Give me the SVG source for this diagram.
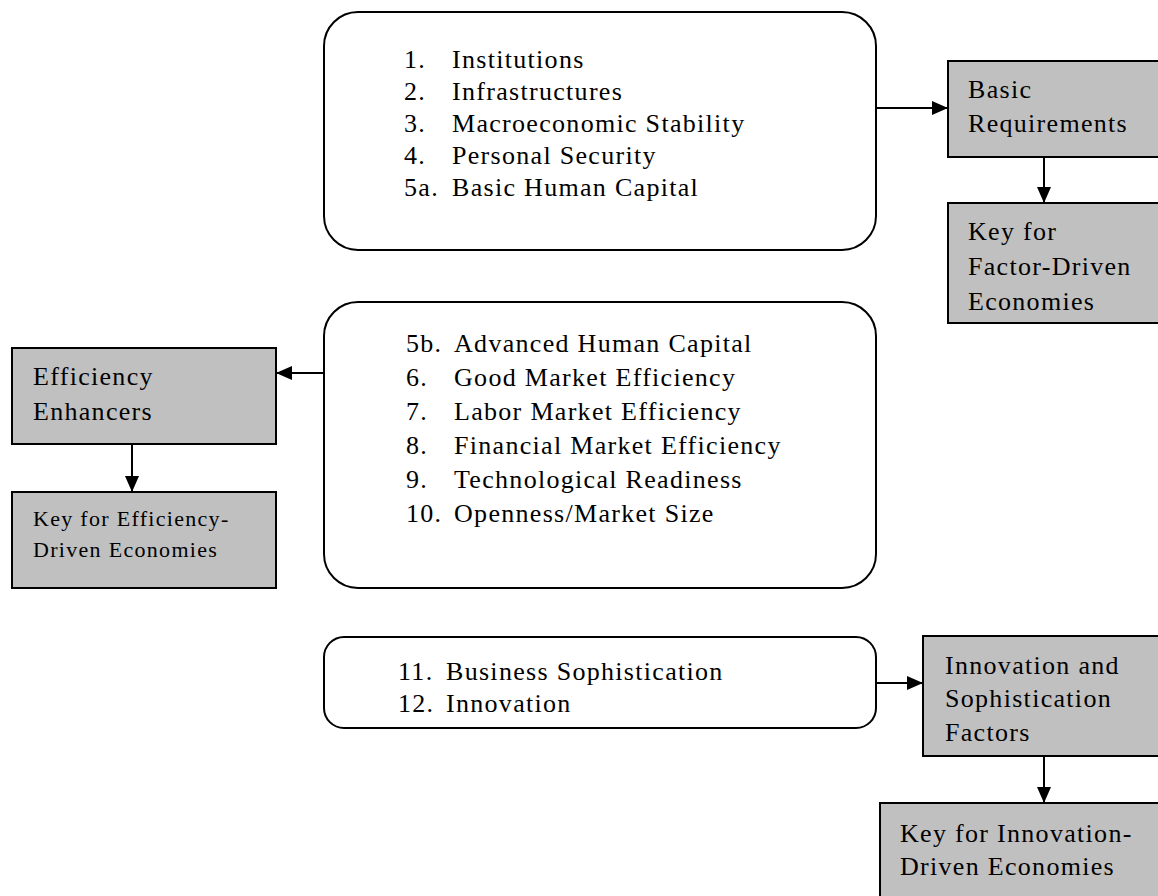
<svg xmlns="http://www.w3.org/2000/svg" width="1158" height="896" viewBox="0 0 1158 896">
  <defs>
    <marker id="arrow" viewBox="0 0 16 14" refX="16" refY="7" markerWidth="16" markerHeight="14" markerUnits="userSpaceOnUse" orient="auto">
      <path d="M0,0 L16,7 L0,14 Z" fill="#000"/>
    </marker>
    <style>
      .list { fill: #fff; stroke: #000; stroke-width: 2; }
      .grey { fill: #c0c0c0; stroke: #000; stroke-width: 2; }
      .link { fill: none; stroke: #000; stroke-width: 2; marker-end: url(#arrow); }
      text { font-family: "Liberation Serif", "Times New Roman", serif; font-size: 26px; letter-spacing: 1.3px; fill: #000; }
      .small { font-size: 22px; letter-spacing: 1.3px; }
    </style>
  </defs>
  <rect width="1158" height="896" fill="#fff"/>

  <!-- connectors -->
  <g id="connectors">
    <line class="link" x1="876" y1="108" x2="948" y2="108"/>
    <line class="link" x1="1044" y1="157" x2="1044" y2="203"/>
    <line class="link" x1="324" y1="373" x2="276" y2="373"/>
    <line class="link" x1="132" y1="444" x2="132" y2="492"/>
    <line class="link" x1="876" y1="683" x2="923" y2="683"/>
    <line class="link" x1="1044" y1="756" x2="1044" y2="803"/>
  </g>

  <!-- pillars 1-5a -->
  <g id="basic-pillars">
    <rect class="list" x="324" y="12" width="552" height="238" rx="34" ry="34"/>
    <text x="404" y="68">1.</text><text x="452" y="68">Institutions</text>
    <text x="404" y="100">2.</text><text x="452" y="100">Infrastructures</text>
    <text x="404" y="132">3.</text><text x="452" y="132">Macroeconomic Stability</text>
    <text x="404" y="164">4.</text><text x="452" y="164">Personal Security</text>
    <text x="404" y="196">5a.</text><text x="452" y="196">Basic Human Capital</text>
  </g>

  <g id="basic-requirements">
    <rect class="grey" x="948" y="61" width="230" height="96"/>
    <text x="968" y="98">Basic</text>
    <text x="968" y="132">Requirements</text>
  </g>

  <g id="factor-driven">
    <rect class="grey" x="948" y="203" width="230" height="120"/>
    <text x="968" y="240">Key for</text>
    <text x="968" y="275">Factor-Driven</text>
    <text x="968" y="310">Economies</text>
  </g>

  <!-- pillars 5b-10 -->
  <g id="efficiency-pillars">
    <rect class="list" x="324" y="302" width="552" height="286" rx="34" ry="34"/>
    <text x="406" y="352">5b.</text><text x="454" y="352">Advanced Human Capital</text>
    <text x="406" y="386">6.</text><text x="454" y="386">Good Market Efficiency</text>
    <text x="406" y="420">7.</text><text x="454" y="420">Labor Market Efficiency</text>
    <text x="406" y="454">8.</text><text x="454" y="454">Financial Market Efficiency</text>
    <text x="406" y="488">9.</text><text x="454" y="488">Technological Readiness</text>
    <text x="406" y="522">10.</text><text x="454" y="522">Openness/Market Size</text>
  </g>

  <g id="efficiency-enhancers">
    <rect class="grey" x="12" y="348" width="264" height="96"/>
    <text x="33" y="385">Efficiency</text>
    <text x="33" y="420">Enhancers</text>
  </g>

  <g id="efficiency-driven">
    <rect class="grey" x="12" y="492" width="264" height="96"/>
    <text class="small" x="33" y="526">Key for Efficiency-</text>
    <text class="small" x="33" y="557">Driven Economies</text>
  </g>

  <!-- pillars 11-12 -->
  <g id="innovation-pillars">
    <rect class="list" x="324" y="637" width="552" height="91" rx="20" ry="20"/>
    <text x="398" y="680">11.</text><text x="446" y="680">Business Sophistication</text>
    <text x="398" y="712">12.</text><text x="446" y="712">Innovation</text>
  </g>

  <g id="innovation-factors">
    <rect class="grey" x="923" y="636" width="250" height="120"/>
    <text x="945" y="674">Innovation and</text>
    <text x="945" y="707">Sophistication</text>
    <text x="945" y="741">Factors</text>
  </g>

  <g id="innovation-driven">
    <rect class="grey" x="880" y="803" width="293" height="110"/>
    <text x="900" y="842">Key for Innovation-</text>
    <text x="900" y="875">Driven Economies</text>
  </g>
</svg>
